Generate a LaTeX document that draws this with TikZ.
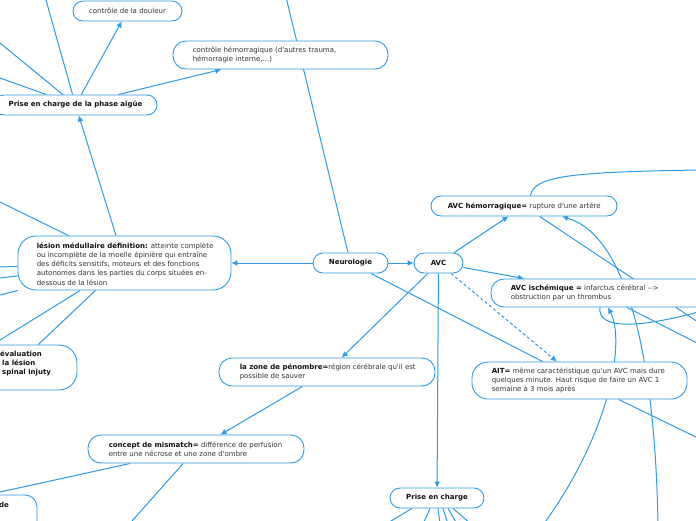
\documentclass[tikz,border=0pt]{standalone}
\usepackage{fontspec}
\newfontfamily\dvs{DejaVu Sans}
\usetikzlibrary{arrows.meta,backgrounds}
\definecolor{lb}{HTML}{2D9BE5}
\definecolor{tx}{HTML}{333333}
\definecolor{tb}{HTML}{111111}
\newcommand\bt[1]{\textbf{\color{tb}#1}}
\begin{document}
\begin{tikzpicture}[x=1pt,y=-1pt,
  every node/.style={font=\dvs\fontsize{7}{9.2}\selectfont, text=tx},
  box/.style={draw=lb, line width=0.9pt, fill=white, rounded corners=10pt, inner sep=0pt},
  txt/.style={anchor=west, align=left, inner sep=0pt},
  edge/.style={draw=lb, line width=1pt},
  arr/.style={edge, -{Latex[length=6pt,width=6pt]}},
]
\useasboundingbox (0,0) rectangle (696,520);
% ---- nodes
\node[box, minimum width=109pt, minimum height=20pt] (douleur) at (127.5,11) {contrôle de la douleur};
\node[box, rounded corners=13pt, minimum width=215pt, minimum height=28pt] (ctrlh) at (280.5,55) {};
\node[txt] (ctrlht) at ([xshift=20pt]ctrlh.west) {contrôle hémorragique (d'autres trauma,\\hémorragie interne,...)};
\node[box, minimum width=163pt, minimum height=20pt] (phase) at (75.5,105) {\bt{Prise en charge de la phase aigüe}};
\node[box, rounded corners=18pt, minimum width=213pt, minimum height=54pt] (lesion) at (124.5,263) {};
\node[txt] (lesiont) at ([xshift=19pt,yshift=-1pt]lesion.west) {\bt{lésion médullaire définition:} atteinte complète\\ou incomplète de la moelle épinière qui entraîne\\des déficits sensitifs, moteurs et des fonctions\\autonomes dans les parties du corps situées en-\\dessous de la lésion};
\node[box, minimum width=75pt, minimum height=20pt] (neuro) at (350.5,263) {\bt{Neurologie}};
\node[box, minimum width=49pt, minimum height=20pt] (avc) at (438.5,263) {\bt{AVC}};
\node[box, minimum width=186pt, minimum height=20pt] (avch) at (524,206) {};
\node[txt] (avcht) at ([xshift=17pt]avch.west) {\bt{AVC hémorragique=} rupture d'une artère};
\node[box, rounded corners=13pt, minimum width=225pt, minimum height=28pt] (avci) at (603.5,293) {};
\node[txt] (avcit) at ([xshift=20pt]avci.west) {\bt{AVC ischémique =} infarctus cérébral -->\\obstruction par un thrombus};
\node[box, rounded corners=16pt, minimum width=215pt, minimum height=37pt] (ait) at (579.5,380.5) {};
\node[txt] (aitt) at ([xshift=20pt]ait.west) {\bt{AIT=} même caractéristique qu'un AVC mais dure\\quelques minute. Haut risque de faire un AVC 1\\semaine à 3 mois après};
\node[box, rounded corners=13pt, minimum width=216pt, minimum height=28pt] (pen) at (327,372) {};
\node[txt] (pent) at ([xshift=21pt]pen.west) {\bt{la zone de pénombre=}région cérébrale qu'il est\\possible de sauver};
\node[box, rounded corners=13pt, minimum width=216pt, minimum height=28pt] (mis) at (196,449) {};
\node[txt] (mist) at ([xshift=21pt]mis.west) {\bt{concept de mismatch=} différence de perfusion\\entre une nécrose et une zone d'ombre};
\node[box, minimum width=94pt, minimum height=20pt] (pec) at (437,498) {\bt{Prise en charge}};
\node[box, rounded corners=18pt, minimum width=126pt, minimum height=45pt] (eval) at (14,367.5) {};
\node[txt, font=\dvs\fontsize{7}{8.6}\selectfont] (evalt) at (0,363.5) {\bt{évaluation}\\\kern2pt\bt{la lésion}\\\kern2pt\bt{spinal injuty}};
\node[box, rounded corners=12pt, minimum width=137pt, minimum height=50pt] (deb) at (-31.5,520) {};
\node[txt] (debt) at (-1,505) {\bt{de}};
% ---- free ends
\coordinate (nT) at (285.5,-5);
\coordinate (mL) at (-30,498.6);
\coordinate (mB) at (124,530);
\coordinate (lA) at (-10,197.1);
\coordinate (lB) at (-10,267.3);
\coordinate (lC) at (-10,279.2);
\coordinate (lD) at (-10,297.6);
\coordinate (lE) at (-10,346.2);
\coordinate (pA) at (44.6,-5);
\coordinate (pB) at (-8,36.4);
\coordinate (pC) at (-8,75.1);
\coordinate (q1) at (386,524);
\coordinate (q2) at (423,524);
\coordinate (q3) at (440,524);
\coordinate (q4) at (448,524);
\coordinate (q5) at (457,524);
\coordinate (q6) at (471,524);
\coordinate (r1) at (700,170);
\coordinate (r2) at (700,323.4);
\coordinate (r3) at (700,311.5);
\coordinate (r4) at (700,344.5);
\coordinate (r5) at (700,439);
\coordinate (cb1) at (658,525);
\coordinate (cb2) at (543,525);
% ---- connectors
\begin{pgfonlayer}{background}
\draw[arr] (neuro) -- (lesion);
\draw[arr] (neuro) -- (avc);
\draw[edge] (neuro) -- (nT);
\draw[edge] (neuro) -- (ait);
\draw[arr] (avc) -- (avch);
\draw[arr] (avc) -- (avci);
\draw[arr, dash pattern=on 3pt off 2.5pt] (avc) -- (ait);
\draw[arr] (avc) -- (pen);
\draw[arr] (avc) -- (pec);
\draw[arr] (pen) -- (mis);
\draw[edge] (mis) -- (mL);
\draw[edge] (mis) -- (mB);
\draw[arr] (lesion) -- (phase);
\draw[edge] (lesion) -- (eval);
\draw[edge] (lesion) -- (lA);
\draw[edge] (lesion) -- (lB);
\draw[edge] (lesion) -- (lC);
\draw[edge] (lesion) -- (lD);
\draw[edge] (lesion) -- (lE);
\draw[arr] (phase) -- (douleur);
\draw[arr] (phase) -- (ctrlh);
\draw[edge] (phase) -- (pA);
\draw[edge] (phase) -- (pB);
\draw[edge] (phase) -- (pC);
\draw[edge] ([xshift=-25pt]pec.south) -- (q1);
\draw[edge] ([xshift=-7pt]pec.south) -- (q2);
\draw[edge] ([xshift=1pt]pec.south) -- (q3);
\draw[edge] ([xshift=6pt]pec.south) -- (q4);
\draw[edge] ([xshift=11pt]pec.south) -- (q5);
\draw[edge] ([xshift=16pt]pec.south) -- (q6);
\draw[edge] ([xshift=6.5pt]avch.north) .. controls (534,176) and (570,172) .. (r1);
\draw[edge] (avch) -- (r2);
\draw[arr] (cb1) .. controls (655,350) and (625,235) .. ([xshift=38pt]avch.south);
\draw[arr] (cb2) .. controls (612,430) and (625,340) .. ([xshift=4.5pt]avci.south);
\draw[edge] ([xshift=-3.5pt]avci.south) .. controls (597,330) and (640,328) .. (r3);
\draw[edge] ([xshift=23.5pt]avci.south) -- (r4);
\draw[edge] (ait) -- (r5);
\end{pgfonlayer}
\end{tikzpicture}
\end{document}
